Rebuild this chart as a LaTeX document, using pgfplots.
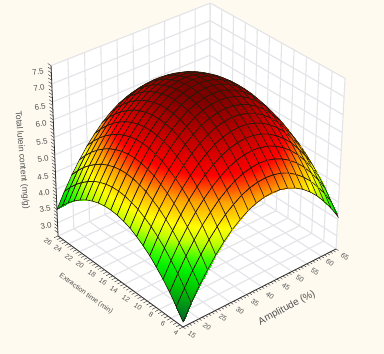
\documentclass[border=0pt]{standalone}
\usepackage{fontspec}
\setmainfont{Liberation Sans}
\usepackage{pgfplots}
\usepackage{pgfplotstable}
\pgfplotsset{compat=1.18}

\definecolor{paper}{RGB}{254,250,240}
\definecolor{gridc}{RGB}{228,228,232}
\definecolor{axisc}{RGB}{50,50,50}
\definecolor{labelc}{RGB}{80,80,80}

% amplitude, time, z -> picture position (perspective of the box)
\pgfplotsset{
  /pgfplots/table/prj/.style={
    x expr={px(\thisrow{a},\thisrow{t},\thisrow{z})},
    y expr={py(\thisrow{a},\thisrow{t},\thisrow{z})},
    z expr=0},
  colormap={lutein}{
    rgb255(2.6)=(0,90,45)
    rgb255(2.75)=(0,100,40)
    rgb255(3.1)=(0,145,25)
    rgb255(3.5)=(0,200,0)
    rgb255(3.85)=(0,240,0)
    rgb255(4.15)=(70,255,0)
    rgb255(4.45)=(190,255,0)
    rgb255(4.75)=(255,255,0)
    rgb255(5.25)=(255,160,0)
    rgb255(5.75)=(255,0,0)
    rgb255(6.3)=(195,0,0)
    rgb255(6.9)=(125,0,0)
    rgb255(7.5)=(100,0,0)
  }
}
\newcommand\seg[7]{\addplot3[#1] table[prj,row sep=\\]{a t z\\#2 #3 #4\\#5 #6 #7\\};}
\newcommand\wall[4]{\addplot3[fill=white,draw=none] table[prj,row sep=\\]{a t z\\#1\\#2\\#3\\#4\\};}
\newcommand\lab[5]{\node[font=\fontsize{#2}{#2}\selectfont,rotate=#1,text=labelc,inner sep=0pt] at (axis cs:#3,354-#4,0) {#5};}

\pgfplotstableread[row sep=\\]{
a t z\\
65 26 4.23\\62.5 26 4.58\\60 26 4.88\\57.5 26 5.15\\55 26 5.37\\52.5 26 5.55\\50 26 5.69\\47.5 26 5.79\\45 26 5.85\\42.5 26 5.87\\40 26 5.85\\37.5 26 5.79\\35 26 5.69\\32.5 26 5.54\\30 26 5.36\\27.5 26 5.13\\25 26 4.87\\22.5 26 4.56\\20 26 4.22\\17.5 26 3.83\\15 26 3.40\\
65 24.9 4.47\\62.5 24.9 4.82\\60 24.9 5.12\\57.5 24.9 5.39\\55 24.9 5.61\\52.5 24.9 5.79\\50 24.9 5.93\\47.5 24.9 6.03\\45 24.9 6.09\\42.5 24.9 6.11\\40 24.9 6.09\\37.5 24.9 6.03\\35 24.9 5.93\\32.5 24.9 5.78\\30 24.9 5.60\\27.5 24.9 5.37\\25 24.9 5.11\\22.5 24.9 4.80\\20 24.9 4.46\\17.5 24.9 4.07\\15 24.9 3.64\\
65 23.8 4.68\\62.5 23.8 5.03\\60 23.8 5.33\\57.5 23.8 5.60\\55 23.8 5.82\\52.5 23.8 6.00\\50 23.8 6.14\\47.5 23.8 6.24\\45 23.8 6.30\\42.5 23.8 6.32\\40 23.8 6.30\\37.5 23.8 6.24\\35 23.8 6.14\\32.5 23.8 5.99\\30 23.8 5.81\\27.5 23.8 5.58\\25 23.8 5.32\\22.5 23.8 5.01\\20 23.8 4.67\\17.5 23.8 4.28\\15 23.8 3.85\\
65 22.7 4.86\\62.5 22.7 5.21\\60 22.7 5.51\\57.5 22.7 5.78\\55 22.7 6.00\\52.5 22.7 6.18\\50 22.7 6.32\\47.5 22.7 6.42\\45 22.7 6.48\\42.5 22.7 6.50\\40 22.7 6.48\\37.5 22.7 6.42\\35 22.7 6.32\\32.5 22.7 6.17\\30 22.7 5.99\\27.5 22.7 5.76\\25 22.7 5.50\\22.5 22.7 5.19\\20 22.7 4.85\\17.5 22.7 4.46\\15 22.7 4.03\\
65 21.6 5.01\\62.5 21.6 5.36\\60 21.6 5.66\\57.5 21.6 5.93\\55 21.6 6.15\\52.5 21.6 6.33\\50 21.6 6.47\\47.5 21.6 6.57\\45 21.6 6.63\\42.5 21.6 6.65\\40 21.6 6.63\\37.5 21.6 6.57\\35 21.6 6.47\\32.5 21.6 6.32\\30 21.6 6.14\\27.5 21.6 5.91\\25 21.6 5.65\\22.5 21.6 5.34\\20 21.6 5.00\\17.5 21.6 4.61\\15 21.6 4.18\\
65 20.5 5.14\\62.5 20.5 5.49\\60 20.5 5.79\\57.5 20.5 6.06\\55 20.5 6.28\\52.5 20.5 6.46\\50 20.5 6.60\\47.5 20.5 6.70\\45 20.5 6.76\\42.5 20.5 6.78\\40 20.5 6.76\\37.5 20.5 6.70\\35 20.5 6.60\\32.5 20.5 6.45\\30 20.5 6.27\\27.5 20.5 6.04\\25 20.5 5.78\\22.5 20.5 5.47\\20 20.5 5.13\\17.5 20.5 4.74\\15 20.5 4.31\\
65 19.4 5.23\\62.5 19.4 5.58\\60 19.4 5.88\\57.5 19.4 6.15\\55 19.4 6.37\\52.5 19.4 6.55\\50 19.4 6.69\\47.5 19.4 6.79\\45 19.4 6.85\\42.5 19.4 6.87\\40 19.4 6.85\\37.5 19.4 6.79\\35 19.4 6.69\\32.5 19.4 6.54\\30 19.4 6.36\\27.5 19.4 6.13\\25 19.4 5.87\\22.5 19.4 5.56\\20 19.4 5.22\\17.5 19.4 4.83\\15 19.4 4.40\\
65 18.3 5.30\\62.5 18.3 5.65\\60 18.3 5.95\\57.5 18.3 6.22\\55 18.3 6.44\\52.5 18.3 6.62\\50 18.3 6.76\\47.5 18.3 6.86\\45 18.3 6.92\\42.5 18.3 6.94\\40 18.3 6.92\\37.5 18.3 6.86\\35 18.3 6.76\\32.5 18.3 6.61\\30 18.3 6.43\\27.5 18.3 6.20\\25 18.3 5.94\\22.5 18.3 5.63\\20 18.3 5.29\\17.5 18.3 4.90\\15 18.3 4.47\\
65 17.2 5.34\\62.5 17.2 5.69\\60 17.2 5.99\\57.5 17.2 6.26\\55 17.2 6.48\\52.5 17.2 6.66\\50 17.2 6.80\\47.5 17.2 6.90\\45 17.2 6.96\\42.5 17.2 6.98\\40 17.2 6.96\\37.5 17.2 6.90\\35 17.2 6.80\\32.5 17.2 6.65\\30 17.2 6.47\\27.5 17.2 6.24\\25 17.2 5.98\\22.5 17.2 5.67\\20 17.2 5.33\\17.5 17.2 4.94\\15 17.2 4.51\\
65 16.1 5.35\\62.5 16.1 5.70\\60 16.1 6.00\\57.5 16.1 6.27\\55 16.1 6.49\\52.5 16.1 6.67\\50 16.1 6.81\\47.5 16.1 6.91\\45 16.1 6.97\\42.5 16.1 6.99\\40 16.1 6.97\\37.5 16.1 6.91\\35 16.1 6.81\\32.5 16.1 6.66\\30 16.1 6.48\\27.5 16.1 6.25\\25 16.1 5.99\\22.5 16.1 5.68\\20 16.1 5.34\\17.5 16.1 4.95\\15 16.1 4.52\\
65 15 5.33\\62.5 15 5.68\\60 15 5.98\\57.5 15 6.25\\55 15 6.47\\52.5 15 6.65\\50 15 6.79\\47.5 15 6.89\\45 15 6.95\\42.5 15 6.97\\40 15 6.95\\37.5 15 6.89\\35 15 6.79\\32.5 15 6.64\\30 15 6.46\\27.5 15 6.23\\25 15 5.97\\22.5 15 5.66\\20 15 5.32\\17.5 15 4.93\\15 15 4.50\\
65 13.9 5.28\\62.5 13.9 5.63\\60 13.9 5.93\\57.5 13.9 6.20\\55 13.9 6.42\\52.5 13.9 6.60\\50 13.9 6.74\\47.5 13.9 6.84\\45 13.9 6.90\\42.5 13.9 6.92\\40 13.9 6.90\\37.5 13.9 6.84\\35 13.9 6.74\\32.5 13.9 6.59\\30 13.9 6.41\\27.5 13.9 6.18\\25 13.9 5.92\\22.5 13.9 5.61\\20 13.9 5.27\\17.5 13.9 4.88\\15 13.9 4.45\\
65 12.8 5.21\\62.5 12.8 5.56\\60 12.8 5.86\\57.5 12.8 6.13\\55 12.8 6.35\\52.5 12.8 6.53\\50 12.8 6.67\\47.5 12.8 6.77\\45 12.8 6.83\\42.5 12.8 6.85\\40 12.8 6.83\\37.5 12.8 6.77\\35 12.8 6.67\\32.5 12.8 6.52\\30 12.8 6.34\\27.5 12.8 6.11\\25 12.8 5.85\\22.5 12.8 5.54\\20 12.8 5.20\\17.5 12.8 4.81\\15 12.8 4.38\\
65 11.7 5.10\\62.5 11.7 5.45\\60 11.7 5.75\\57.5 11.7 6.02\\55 11.7 6.24\\52.5 11.7 6.42\\50 11.7 6.56\\47.5 11.7 6.66\\45 11.7 6.72\\42.5 11.7 6.74\\40 11.7 6.72\\37.5 11.7 6.66\\35 11.7 6.56\\32.5 11.7 6.41\\30 11.7 6.23\\27.5 11.7 6.00\\25 11.7 5.74\\22.5 11.7 5.43\\20 11.7 5.09\\17.5 11.7 4.70\\15 11.7 4.27\\
65 10.6 4.97\\62.5 10.6 5.32\\60 10.6 5.62\\57.5 10.6 5.89\\55 10.6 6.11\\52.5 10.6 6.29\\50 10.6 6.43\\47.5 10.6 6.53\\45 10.6 6.59\\42.5 10.6 6.61\\40 10.6 6.59\\37.5 10.6 6.53\\35 10.6 6.43\\32.5 10.6 6.28\\30 10.6 6.10\\27.5 10.6 5.87\\25 10.6 5.61\\22.5 10.6 5.30\\20 10.6 4.96\\17.5 10.6 4.57\\15 10.6 4.14\\
65 9.5 4.81\\62.5 9.5 5.16\\60 9.5 5.46\\57.5 9.5 5.73\\55 9.5 5.95\\52.5 9.5 6.13\\50 9.5 6.27\\47.5 9.5 6.37\\45 9.5 6.43\\42.5 9.5 6.45\\40 9.5 6.43\\37.5 9.5 6.37\\35 9.5 6.27\\32.5 9.5 6.12\\30 9.5 5.94\\27.5 9.5 5.71\\25 9.5 5.45\\22.5 9.5 5.14\\20 9.5 4.80\\17.5 9.5 4.41\\15 9.5 3.98\\
65 8.4 4.62\\62.5 8.4 4.97\\60 8.4 5.27\\57.5 8.4 5.54\\55 8.4 5.76\\52.5 8.4 5.94\\50 8.4 6.08\\47.5 8.4 6.18\\45 8.4 6.24\\42.5 8.4 6.26\\40 8.4 6.24\\37.5 8.4 6.18\\35 8.4 6.08\\32.5 8.4 5.93\\30 8.4 5.75\\27.5 8.4 5.52\\25 8.4 5.26\\22.5 8.4 4.95\\20 8.4 4.61\\17.5 8.4 4.22\\15 8.4 3.79\\
65 7.3 4.40\\62.5 7.3 4.75\\60 7.3 5.05\\57.5 7.3 5.32\\55 7.3 5.54\\52.5 7.3 5.72\\50 7.3 5.86\\47.5 7.3 5.96\\45 7.3 6.02\\42.5 7.3 6.04\\40 7.3 6.02\\37.5 7.3 5.96\\35 7.3 5.86\\32.5 7.3 5.71\\30 7.3 5.53\\27.5 7.3 5.30\\25 7.3 5.04\\22.5 7.3 4.73\\20 7.3 4.39\\17.5 7.3 4.00\\15 7.3 3.57\\
65 6.2 4.16\\62.5 6.2 4.51\\60 6.2 4.81\\57.5 6.2 5.08\\55 6.2 5.30\\52.5 6.2 5.48\\50 6.2 5.62\\47.5 6.2 5.72\\45 6.2 5.78\\42.5 6.2 5.80\\40 6.2 5.78\\37.5 6.2 5.72\\35 6.2 5.62\\32.5 6.2 5.47\\30 6.2 5.29\\27.5 6.2 5.06\\25 6.2 4.80\\22.5 6.2 4.49\\20 6.2 4.15\\17.5 6.2 3.76\\15 6.2 3.33\\
65 5.1 3.88\\62.5 5.1 4.23\\60 5.1 4.53\\57.5 5.1 4.80\\55 5.1 5.02\\52.5 5.1 5.20\\50 5.1 5.34\\47.5 5.1 5.44\\45 5.1 5.50\\42.5 5.1 5.52\\40 5.1 5.50\\37.5 5.1 5.44\\35 5.1 5.34\\32.5 5.1 5.19\\30 5.1 5.01\\27.5 5.1 4.78\\25 5.1 4.52\\22.5 5.1 4.21\\20 5.1 3.87\\17.5 5.1 3.48\\15 5.1 3.05\\
65 4 3.58\\62.5 4 3.93\\60 4 4.23\\57.5 4 4.50\\55 4 4.72\\52.5 4 4.90\\50 4 5.04\\47.5 4 5.14\\45 4 5.20\\42.5 4 5.22\\40 4 5.20\\37.5 4 5.14\\35 4 5.04\\32.5 4 4.89\\30 4 4.71\\27.5 4 4.48\\25 4 4.22\\22.5 4 3.91\\20 4 3.57\\17.5 4 3.18\\15 4 2.75\\
}\surfdata

\begin{document}
\begin{tikzpicture}[
  declare function={
    den(\p,\q,\r)=1+0.06072*(\p-15)/50+0.06663*(\q-4)/22-0.0579*(\r-2.6)/4.9;
    px(\p,\q,\r)=(183+173.4*(\p-15)/50-121.1*(\q-4)/22-10.39*(\r-2.6)/4.9)/den(\p,\q,\r);
    py(\p,\q,\r)=354-(327-62.9*(\p-15)/50-75.3*(\q-4)/22-185.5*(\r-2.6)/4.9)/den(\p,\q,\r);
  }]
\fill[paper] (0,0) rectangle (384pt,354pt);
\begin{axis}[
  at={(0,0)}, anchor=south west,
  view={0}{90}, hide axis, scale only axis,
  width=384pt, height=354pt,
  xmin=0, xmax=384, ymin=0, ymax=354, zmin=0, zmax=1,
  clip=false,
  point meta min=2.6, point meta max=7.5,
  colormap name=lutein,
]
% walls and floor
\wall{15 26 2.6}{65 26 2.6}{65 26 7.5}{15 26 7.5}
\wall{65 4 2.6}{65 26 2.6}{65 26 7.5}{65 4 7.5}
\wall{15 4 2.6}{65 4 2.6}{65 26 2.6}{15 26 2.6}
% grid
\pgfplotsinvokeforeach{15,20,...,65}{
  \seg{gridc,line width=1.1pt}{#1}{4}{2.6}{#1}{26}{2.6}
  \seg{gridc,line width=1.1pt}{#1}{26}{2.6}{#1}{26}{7.5}
}
\pgfplotsinvokeforeach{4,6,...,26}{
  \seg{gridc,line width=1.1pt}{15}{#1}{2.6}{65}{#1}{2.6}
  \seg{gridc,line width=1.1pt}{65}{#1}{2.6}{65}{#1}{7.5}
}
\pgfplotsinvokeforeach{3,3.5,...,7.5}{
  \seg{gridc,line width=1.1pt}{15}{26}{#1}{65}{26}{#1}
  \seg{gridc,line width=1.1pt}{65}{4}{#1}{65}{26}{#1}
}
% surface
\addplot3[surf, shader=faceted interp, z buffer=none, mesh/rows=21,
  faceted color={rgb,255:red,40;green,25;blue,10}, line width=0.6pt,
  point meta=\thisrow{z}] table[prj] {\surfdata};
% axes
\seg{axisc,line width=0.8pt}{15}{26}{2.6}{15}{26}{7.5}
\seg{axisc,line width=0.8pt}{15}{4}{2.6}{15}{26}{2.6}
\seg{axisc,line width=0.8pt}{15}{4}{2.6}{65}{4}{2.6}
\pgfplotsinvokeforeach{15,16,...,65}{\seg{axisc,line width=0.4pt}{#1}{4}{2.6}{#1}{3.6}{2.6}}
\pgfplotsinvokeforeach{4,4.5,...,26}{\seg{axisc,line width=0.4pt}{15}{#1}{2.6}{13.8}{#1}{2.6}}
\pgfplotsinvokeforeach{2.7,2.8,...,7.5}{\seg{axisc,line width=0.4pt}{15}{26}{#1}{15}{26.6}{#1}}
% labels
\lab{10}{8}{38}{72}{7.5}\lab{10}{8}{39}{88}{7.0}\lab{10}{8}{40}{107}{6.5}\lab{10}{8}{41}{124}{6.0}\lab{10}{8}{42}{142}{5.5}
\lab{10}{8}{43}{159}{5.0}\lab{10}{8}{43}{177}{4.5}\lab{10}{8}{44}{193}{4.0}\lab{10}{8}{45}{209}{3.5}\lab{10}{8}{46}{226}{3.0}
\lab{-35}{7}{48}{242}{26}\lab{-35}{7}{58}{249}{24}\lab{-35}{7}{69}{258}{22}\lab{-35}{7}{80}{265}{20}\lab{-35}{7}{92}{274}{18}\lab{-35}{7}{103}{282}{16}
\lab{-35}{7}{114}{290}{14}\lab{-35}{7}{126}{299}{12}\lab{-35}{7}{138}{307}{10}\lab{-35}{7}{151}{315}{8}\lab{-35}{7}{163}{324}{6}\lab{-35}{7}{176}{333}{4}
\lab{-35}{7}{345}{257}{65}\lab{-35}{7}{330}{263}{60}\lab{-35}{7}{315}{272}{55}\lab{-35}{7}{300}{279}{50}\lab{-35}{7}{286}{287}{45}\lab{-35}{7}{270}{296}{40}
\lab{-35}{7}{255}{303}{35}\lab{-35}{7}{240}{311}{30}\lab{-35}{7}{223}{318}{25}\lab{-35}{7}{207}{327}{20}\lab{-35}{7}{192}{335}{15}
\lab{-85}{8.5}{22}{160}{Total lutein content (mg/g)}
\lab{-36}{7}{86}{294}{Extraction time (min)}
\lab{28}{10}{287}{308}{Amplitude (\%)}
\end{axis}
\end{tikzpicture}
\end{document}
